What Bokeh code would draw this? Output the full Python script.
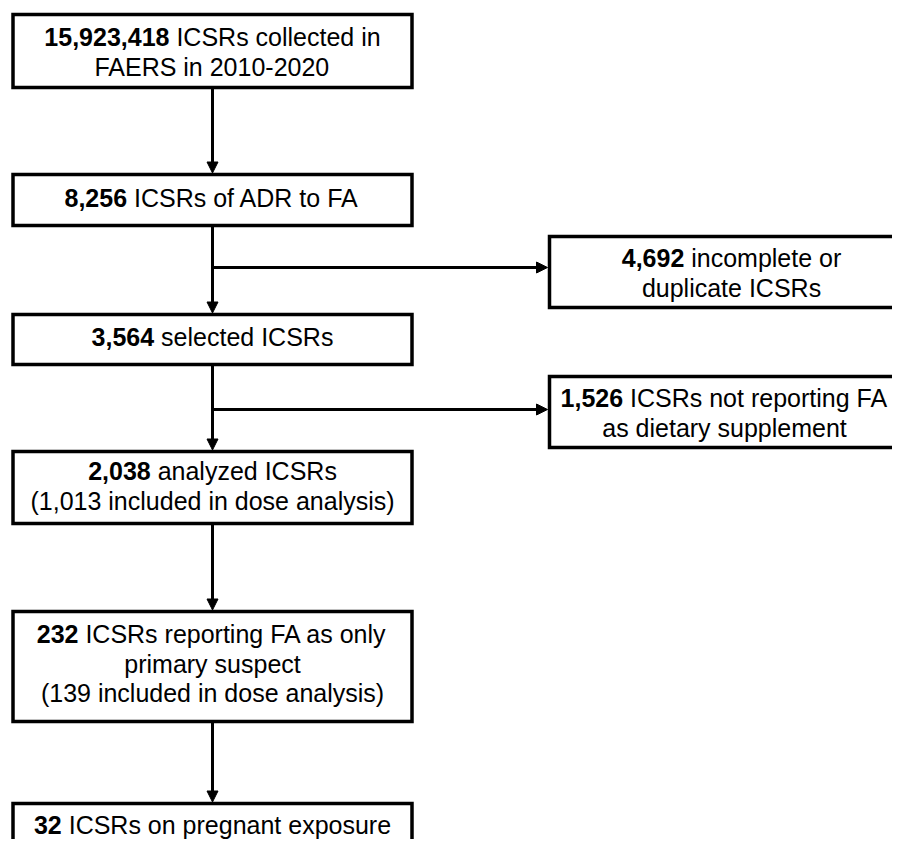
from bokeh.plotting import figure
from bokeh.models import Range1d, Arrow, NormalHead, ColumnDataSource
from bokeh.core.properties import value
from bokeh.embed import file_html
from bokeh.resources import INLINE

# ---------------- data ----------------
counts = ["15,923,418", "8,256", "4,692", "3,564", "1,526", "2,038", "232", "32"]
first_lines = [
    "ICSRs collected in",
    "ICSRs of ADR to FA",
    "incomplete or",
    "selected ICSRs",
    "ICSRs not reporting FA",
    "analyzed ICSRs",
    "ICSRs reporting FA as only",
    "ICSRs on pregnant exposure",
]
extra_lines = [
    ["FAERS in 2010-2020"],
    [],
    ["duplicate ICSRs"],
    [],
    ["as dietary supplement"],
    ["(1,013 included in dose analysis)"],
    ["primary suspect", "(139 included in dose analysis)"],
    [],
]

# ---------------- layout (picture pixel coordinates) ----------------
L_LEFT, L_RIGHT = 12.5, 411.5
R_LEFT, R_RIGHT = 549, 920
boxes = [  # left, right, top, bottom
    (L_LEFT, L_RIGHT, 14, 87),
    (L_LEFT, L_RIGHT, 174, 225),
    (R_LEFT, R_RIGHT, 236, 307),
    (L_LEFT, L_RIGHT, 314, 364),
    (R_LEFT, R_RIGHT, 376, 447),
    (L_LEFT, L_RIGHT, 451, 523),
    (L_LEFT, L_RIGHT, 611, 721),
    (L_LEFT, L_RIGHT, 803, 900),
]
text_cx = [212, 212, 731, 212, 724, 212, 212, 212]
first_baseline = [45, 206, 266, 345, 406, 479, 642, 833]
BASE_FIX = -8.5
LINE_STEP = 29.5
FS = 25

W = {' ': 278, ',': 278, '.': 278, '-': 333, '(': 333, ')': 333}
for ch in "0123456789":
    W[ch] = 556
W.update(dict(zip("ABCDEFGHIJKLMNOPQRSTUVWXYZ",
                  [667, 667, 722, 722, 667, 611, 778, 722, 278, 500, 667, 556, 833,
                   722, 778, 667, 778, 722, 667, 611, 722, 667, 944, 667, 667, 611])))
W.update(dict(zip("abcdefghijklmnopqrstuvwxyz",
                  [556, 556, 500, 556, 556, 278, 556, 556, 222, 222, 500, 222, 833,
                   556, 556, 556, 556, 333, 500, 278, 556, 500, 722, 500, 500, 500])))


def tw(s):
    return sum(W.get(c, 556) for c in s) * FS / 1000.0


bold_x, bold_y, bold_t = [], [], []
reg_x, reg_y, reg_t = [], [], []
for i in range(len(boxes)):
    cx = text_cx[i]
    by = first_baseline[i] + BASE_FIX
    wb = tw(counts[i])
    ws = tw(" ")
    wr = tw(first_lines[i])
    x0 = cx - (wb + ws + wr) / 2
    bold_x.append(x0)
    bold_y.append(by)
    bold_t.append(counts[i])
    reg_x.append(x0 + wb + ws)
    reg_y.append(by)
    reg_t.append(first_lines[i])
    for k, line in enumerate(extra_lines[i]):
        reg_x.append(cx - tw(line) / 2)
        reg_y.append(by + (k + 1) * LINE_STEP)
        reg_t.append(line)

p = figure(width=892, height=839, output_backend="svg", toolbar_location=None,
           x_range=Range1d(0, 892), y_range=Range1d(839, 0),
           min_border=0, x_axis_location=None, y_axis_location=None)
p.grid.visible = False
p.outline_line_color = None
p.background_fill_color = "white"
p.border_fill_color = "white"

src_boxes = ColumnDataSource(dict(
    left=[bx[0] for bx in boxes], right=[bx[1] for bx in boxes],
    top=[bx[2] for bx in boxes], bottom=[bx[3] for bx in boxes]))
p.quad(left="left", right="right", top="top", bottom="bottom", source=src_boxes,
       fill_color="white", line_color="black", line_width=3.5, line_join="miter")

p.text(x=bold_x, y=bold_y, text=bold_t, text_font=value("Liberation Sans"),
       text_font_size=f"{FS}px", text_font_style="bold", text_color="black",
       text_align="left", text_baseline="alphabetic")
p.text(x=reg_x, y=reg_y, text=reg_t, text_font=value("Liberation Sans"),
       text_font_size=f"{FS}px", text_color="black",
       text_align="left", text_baseline="alphabetic")

CX = (L_LEFT + L_RIGHT) / 2
main_chain = [0, 1, 3, 5, 6, 7]
for a, b2 in zip(main_chain[:-1], main_chain[1:]):
    p.add_layout(Arrow(end=NormalHead(size=11, fill_color="black", line_color="black", line_width=1),
                       x_start=CX, y_start=boxes[a][3] + 1.5, x_end=CX, y_end=boxes[b2][2] - 1.5,
                       line_width=3, line_color="black"))

for j, yb in [(2, 267), (4, 409)]:
    p.add_layout(Arrow(end=NormalHead(size=11, fill_color="black", line_color="black", line_width=1),
                       x_start=CX, y_start=yb, x_end=boxes[j][0] - 2, y_end=yb,
                       line_width=3, line_color="black"))

open("out.html", "w").write(file_html(p, INLINE))
